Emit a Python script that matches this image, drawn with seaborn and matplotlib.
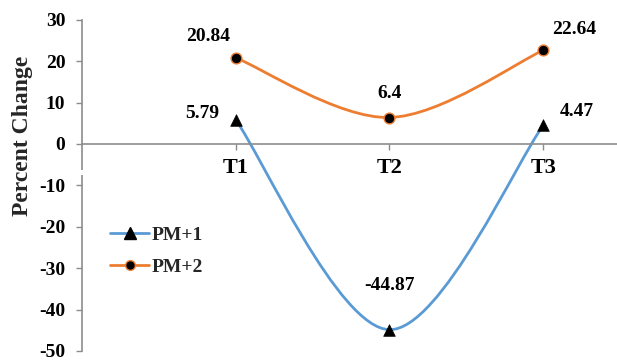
import numpy as np
import pandas as pd
import seaborn as sns
import matplotlib
matplotlib.use("Agg")
import matplotlib.pyplot as plt
from matplotlib.path import Path
from matplotlib.patches import PathPatch, Rectangle
from matplotlib.lines import Line2D

# Data
categories = ["T1", "T2", "T3"]
pm1_values = [5.79, -44.87, 4.47]
pm2_values = [20.84, 6.4, 22.64]
series_names = ["PM+1", "PM+2"]
y_ticks = [30, 20, 10, 0, -10, -20, -30, -40, -50]

sns.set_theme(style="white")
plt.rcParams["font.family"] = ["Liberation Serif", "DejaVu Serif"]
plt.rcParams["font.weight"] = "bold"

blue = "#5B9BD5"
orange = "#ED7D31"
axis_gray = "#8C8C8C"

x_pos = np.arange(1, len(categories) + 1)
df = pd.DataFrame({
    "x": np.concatenate([x_pos, x_pos]),
    "value": pm1_values + pm2_values,
    "series": [series_names[0]] * 3 + [series_names[1]] * 3,
})

fig = plt.figure(figsize=(6.17, 3.61), dpi=100)
ax = fig.add_axes([0.133, 0.028, 0.867, 0.917])


def smooth_path(xs, ys):
    """Cubic Bezier path through the points, Excel-style smoothing."""
    pts = np.column_stack([xs, ys]).astype(float)
    n = len(pts)
    verts = [pts[0]]
    codes = [Path.MOVETO]
    for i in range(n - 1):
        p_prev = pts[i - 1] if i > 0 else pts[i]
        p_next2 = pts[i + 2] if i + 2 < n else pts[i + 1]
        c1 = pts[i] + (pts[i + 1] - p_prev) / 6.0
        c2 = pts[i + 1] - (p_next2 - pts[i]) / 6.0
        verts += [c1, c2, pts[i + 1]]
        codes += [Path.CURVE4] * 3
    return Path(verts, codes)


for vals, col in [(pm1_values, blue), (pm2_values, orange)]:
    ax.add_patch(PathPatch(smooth_path(x_pos, vals), facecolor="none",
                           edgecolor=col, lw=2.0, zorder=2))

# Markers
sub1 = df[df.series == series_names[0]]
sub2 = df[df.series == series_names[1]]
sns.scatterplot(data=sub1, x="x", y="value", marker="^", s=70, color="black",
                edgecolor="black", linewidth=0.5, ax=ax, zorder=3, legend=False)
sns.scatterplot(data=sub2, x="x", y="value", marker="o", s=60, color="black",
                edgecolor=orange, linewidth=1.0, ax=ax, zorder=3, legend=False)

# Value labels (offsets in points)
pm1_offsets = [(-24, 5), (0, 32), (24, 10)]
pm2_offsets = [(-20, 15), (0, 17), (22, 15)]
for xv, yv, off in zip(x_pos, pm1_values, pm1_offsets):
    ax.annotate(f"{yv:g}", (xv, yv), xytext=off, textcoords="offset points",
                ha="center", va="center", fontsize=14, fontweight="bold",
                color="black")
for xv, yv, off in zip(x_pos, pm2_values, pm2_offsets):
    ax.annotate(f"{yv:g}", (xv, yv), xytext=off, textcoords="offset points",
                ha="center", va="center", fontsize=14, fontweight="bold",
                color="black")

# Spines: horizontal axis crosses at zero
for side in ["top", "right"]:
    ax.spines[side].set_visible(False)
ax.spines["bottom"].set_position(("data", 0))
for side in ["left", "bottom"]:
    ax.spines[side].set_color(axis_gray)
    ax.spines[side].set_linewidth(1.2)

# Axes limits, ticks and labels
ax.set_xlim(0, 3.48)
ax.set_ylim(-50, 30)
ax.set_yticks(y_ticks)
ax.set_yticklabels([str(t) for t in y_ticks], fontsize=14, fontweight="bold")
ax.set_xticks(x_pos)
ax.set_xticklabels(categories, fontsize=16, fontweight="bold")
ax.set_xlabel("")
ax.set_ylabel("Percent Change", fontsize=17, fontweight="bold")
ax.yaxis.set_label_coords(-0.092, 0.65)

ax.tick_params(axis="both", direction="out", length=4, width=1.0,
               color=axis_gray, colors="black")
ax.tick_params(axis="x", pad=6, bottom=True)
ax.tick_params(axis="y", left=True, pad=8)
ax.grid(False)

# Small break in the vertical axis below the category labels
ax.add_patch(Rectangle((-0.03, -7.6), 0.06, 1.4, transform=ax.transData,
                       facecolor="white", edgecolor="none", zorder=5,
                       clip_on=False))

handles = [
    Line2D([], [], color=blue, lw=2, marker="^", markersize=8,
           markerfacecolor="black", markeredgecolor="black"),
    Line2D([], [], color=orange, lw=2, marker="o", markersize=7,
           markerfacecolor="black", markeredgecolor=orange),
]
ax.legend(handles, series_names, loc="upper left",
          bbox_to_anchor=(0.02, 0.43), frameon=False, handlelength=2.0,
          handletextpad=0.15, labelspacing=0.75,
          prop={"size": 14, "weight": "bold"})

fig.savefig("out.png", dpi=100)
